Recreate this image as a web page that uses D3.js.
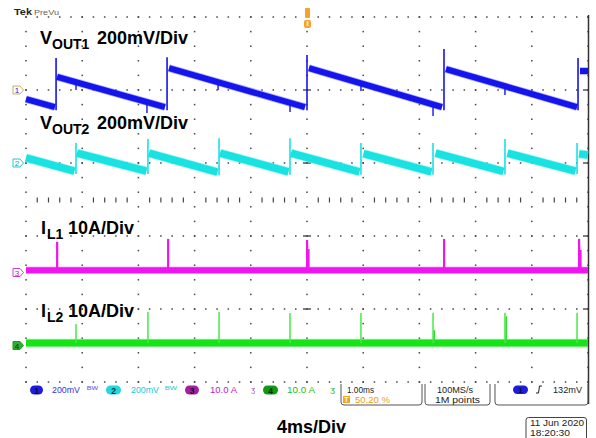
<!DOCTYPE html>
<html><head><meta charset="utf-8">
<script src="https://cdn.jsdelivr.net/npm/d3@7"></script>
<style>body{margin:0;background:#fff}svg{display:block}</style>
</head><body>
<svg id="scope" width="596" height="438"></svg>
<script>
// ---- Acquisition data (time in ms, voltages in mV, currents in A) ----
const timeSpanMs = [0, 40];          // 10 divisions x 4 ms
const gridRows = [0, 1, 2, 3, 4, 5];  // vertical divisions

// Channel settings: vertical scale per division and ground marker position (div)
const ch1Scale = 200, ch1Offset = 4;    // VOUT1, mV/div
const ch2Scale = 200, ch2Offset = 3;    // VOUT2, mV/div
const ch3Scale = 10,  ch3Offset = 1.5;  // IL1, A/div
const ch4Scale = 10,  ch4Offset = 0.5;  // IL2, A/div

// VOUT1 ramps: [tStart, vStart, tEnd, vEnd]
const ch1Ramps = [
  [0.00, -25, 2.06, -47],
  [2.21, 36, 9.89, -47],
  [10.18, 60, 19.86, -47],
  [20.14, 60, 29.61, -47],
  [29.89, 57, 39.22, -47],
  [39.43, 52, 40.00, 52]
];
// VOUT1 recharge edges: [t, peak mV]
const ch1Edges = [[2.14, 88], [10.04, 90], [20.00, 96], [29.75, 112], [39.29, 88]];
// VOUT1 coupling dips: [t, lowest mV]
const ch1Dips = [[3.56, 0], [8.61, -63], [13.67, 0], [18.79, -60], [23.84, -3], [28.97, -71], [34.09, -14]];

// VOUT2 ramps and edges
const ch2Ramps = [
  [0.00, 14, 3.45, -22],
  [3.63, 27, 8.57, -22],
  [8.75, 27, 13.63, -25],
  [13.81, 27, 18.68, -24],
  [18.86, 27, 23.73, -24],
  [24.02, 26, 28.86, -24],
  [29.15, 27, 33.98, -23],
  [34.27, 27, 39.11, -22],
  [39.36, 25, 40.00, 22]
];
const ch2Edges = [[3.56, 55], [8.68, 66], [13.74, 68], [18.79, 68], [23.84, 55], [28.97, 55], [34.09, 66], [39.22, 55]];

// Inductor currents: resting level and pulses [t, peak A, tail A]
const ch3Base = 0.3;
const ch3Pulses = [[2.21, 4.2, 0.3], [10.11, 4.6, 0.3], [20.00, 4.45, 3.2], [29.75, 4.6, 0.3], [39.36, 4.6, 3.1]];
const ch4Base = 0.35;
const ch4Pulses = [[3.56, 2.95, 0.35], [8.68, 4.6, 0.35], [13.74, 4.6, 0.35], [18.79, 4.45, 0.35],
                   [23.84, 4.45, 0.35], [28.97, 4.5, 2.1], [34.09, 4.5, 4.0], [39.22, 4.5, 0.35]];

// Readout texts
const chReadouts = ["200mV", "200mV", "10.0 A", "10.0 A"];
const timebaseText = "1.00ms", triggerPosText = "50.20 %";
const sampleRateText = "100MS/s", recordText = "1M points";
const triggerLevelText = "132mV";
const dateText = "11 Jun 2020", timeText = "18:20:30";

// ---- Drawing ----
const svg = d3.select("#scope");
const X = d3.scaleLinear().domain(timeSpanMs).range([26, 588]);
const Y = d3.scaleLinear().domain([0, 5]).range([382, 17]);
const y1 = v => Y(ch1Offset + v / ch1Scale);
const y2 = v => Y(ch2Offset + v / ch2Scale);
const y3 = v => Y(ch3Offset + v / ch3Scale);
const y4 = v => Y(ch4Offset + v / ch4Scale);

const colors = {c1: "#1414ec", c2: "#18e2e2", c3: "#ee16ee", c4: "#16e416"};
const halos  = {c1: "#6a6af6", c2: "#7eeeee", c3: "#f47cf4", c4: "#7cf07c"};

// Graticule
const grid = svg.append("g");
const colTimes = d3.range(0, 40.001, 4);
const minorTimes = d3.range(0, 40.001, 0.8);
const minorDivs = d3.range(0, 5.001, 0.2);
colTimes.forEach(t => minorDivs.forEach(d =>
  grid.append("rect").attr("x", X(t) - 0.75).attr("y", Y(d) - 0.75)
    .attr("width", 1.5).attr("height", 1.5).attr("fill", "#444")));
gridRows.forEach(d => minorTimes.forEach(t =>
  grid.append("rect").attr("x", X(t) - 0.75).attr("y", Y(d) - 0.75)
    .attr("width", 1.5).attr("height", 1.5).attr("fill", "#444")));
// centre horizontal axis ticks
minorTimes.filter(t => Math.abs(t / 4 - Math.round(t / 4)) > 1e-6).forEach(t =>
  grid.append("line").attr("x1", X(t)).attr("x2", X(t))
    .attr("y1", Y(2.5) - 2).attr("y2", Y(2.5) + 3)
    .attr("stroke", "#444").attr("stroke-width", 1.2));
// centre vertical axis and right edge marks at major rows
gridRows.slice(1, 5).forEach(d => {
  grid.append("line").attr("x1", X(20) - 4).attr("x2", X(20) + 4)
    .attr("y1", Y(d)).attr("y2", Y(d)).attr("stroke", "#555").attr("stroke-width", 1.5);
  grid.append("line").attr("x1", X(40) - 5).attr("x2", X(40))
    .attr("y1", Y(d)).attr("y2", Y(d)).attr("stroke", "#555").attr("stroke-width", 1.5);
});
// right frame line
svg.append("line").attr("x1", 588.5).attr("x2", 588.5).attr("y1", 15).attr("y2", 404)
  .attr("stroke", "#333").attr("stroke-width", 1.5);

const line = d3.line();
function band(g, pts, key, w) {
  g.append("path").attr("d", line(pts)).attr("fill", "none")
    .attr("stroke", halos[key]).attr("stroke-width", w + 1.6).attr("stroke-opacity", 0.55);
  g.append("path").attr("d", line(pts)).attr("fill", "none")
    .attr("stroke", colors[key]).attr("stroke-width", w);
}
function rampAt(ramps, t) {
  const r = ramps.find(r => t >= r[0] && t <= r[2]) || ramps[0];
  return r[1] + (r[3] - r[1]) * (t - r[0]) / (r[2] - r[0]);
}

// Channel 1
const g1 = svg.append("g");
ch1Ramps.forEach(r => band(g1, [[X(r[0]), y1(r[1])], [X(r[2]), y1(r[3])]], "c1", 6));
ch1Edges.forEach((e, i) => {
  const prev = ch1Ramps[i];
  g1.append("line").attr("x1", X(e[0])).attr("x2", X(e[0]))
    .attr("y1", y1(prev[3]) + 3).attr("y2", y1(e[1]))
    .attr("stroke", colors.c1).attr("stroke-width", 1.6);
});
ch1Dips.forEach(d => g1.append("line").attr("x1", X(d[0])).attr("x2", X(d[0]))
  .attr("y1", y1(rampAt(ch1Ramps, d[0]))).attr("y2", y1(d[1]))
  .attr("stroke", colors.c1).attr("stroke-width", 1.4));

// Channel 2
const g2 = svg.append("g");
ch2Ramps.forEach(r => band(g2, [[X(r[0]), y2(r[1])], [X(r[2]), y2(r[3])]], "c2", 7.5));
ch2Edges.forEach((e, i) => {
  const prev = ch2Ramps[i];
  g2.append("line").attr("x1", X(e[0])).attr("x2", X(e[0]))
    .attr("y1", y2(prev[3]) + 3).attr("y2", y2(e[1]))
    .attr("stroke", colors.c2).attr("stroke-width", 1.6);
});

// Channel 3
const g3 = svg.append("g");
band(g3, [[X(0), y3(ch3Base)], [X(40), y3(ch3Base)]], "c3", 6);
ch3Pulses.forEach(p => {
  g3.append("rect").attr("x", X(p[0]) - 1).attr("y", y3(p[1]))
    .attr("width", 2.2).attr("height", y3(ch3Base) - y3(p[1]))
    .attr("fill", colors.c3);
  if (p[2] > ch3Base + 0.5)
    g3.append("rect").attr("x", X(p[0]) + 1).attr("y", y3(p[2]))
      .attr("width", 1.6).attr("height", y3(ch3Base) - y3(p[2]))
      .attr("fill", colors.c3);
});

// Channel 4
const g4 = svg.append("g");
band(g4, [[X(0), y4(ch4Base)], [X(40), y4(ch4Base)]], "c4", 7);
ch4Pulses.forEach(p => {
  g4.append("line").attr("x1", X(p[0])).attr("x2", X(p[0]))
    .attr("y1", y4(ch4Base)).attr("y2", y4(p[1]))
    .attr("stroke", "#48e848").attr("stroke-width", 1.5);
  if (p[2] > ch4Base + 0.5)
    g4.append("line").attr("x1", X(p[0]) + 1.3).attr("x2", X(p[0]) + 1.3)
      .attr("y1", y4(ch4Base)).attr("y2", y4(p[2]))
      .attr("stroke", "#30dd30").attr("stroke-width", 1.5);
});

// Ground markers on the left edge
const markers = [
  {n: "1", off: ch1Offset, stroke: "#c8b060", fill: "#fff", text: "#2020c0"},
  {n: "2", off: ch2Offset, stroke: "#20c8d8", fill: "#fff", text: "#1a9ab0"},
  {n: "3", off: ch3Offset, stroke: "#d040d0", fill: "#fff", text: "#b020b0"},
  {n: "4", off: ch4Offset, stroke: "#1a9a1a", fill: "#30b030", text: "#0a2a0a"}
];
markers.forEach(m => {
  const yy = Y(m.off);
  svg.append("path")
    .attr("d", `M13,${yy - 4}L20,${yy - 4}L23.5,${yy}L20,${yy + 4}L13,${yy + 4}Z`)
    .attr("fill", m.fill).attr("stroke", m.stroke).attr("stroke-width", 1);
  svg.append("text").attr("x", 17).attr("y", yy + 3).attr("text-anchor", "middle")
    .attr("font-family", "Liberation Sans, Arial, sans-serif").attr("font-size", 8)
    .attr("fill", m.text).text(m.n);
});

// Trigger position marker
svg.append("rect").attr("x", 305).attr("y", 8).attr("width", 5).attr("height", 10)
  .attr("rx", 1).attr("fill", "#f4a428");
svg.append("rect").attr("x", 304).attr("y", 20).attr("width", 7).attr("height", 8)
  .attr("rx", 2).attr("fill", "#f4a428");
svg.append("rect").attr("x", 306.5).attr("y", 21).attr("width", 2).attr("height", 5)
  .attr("fill", "#fbd9a0");

// Header
svg.append("text").attr("x", 14).attr("y", 15).attr("font-family", "Liberation Sans, Arial, sans-serif")
  .attr("font-size", 9.5).attr("font-weight", "bold").attr("fill", "#222")
  .attr("textLength", 18).attr("lengthAdjust", "spacingAndGlyphs").text("Tek");
svg.append("text").attr("x", 34).attr("y", 15).attr("font-family", "Liberation Sans, Arial, sans-serif")
  .attr("font-size", 7.5).attr("fill", "#666")
  .attr("textLength", 25).attr("lengthAdjust", "spacingAndGlyphs").text("PreVu");

// Channel labels
const lab = "Liberation Sans, Arial, Helvetica, sans-serif";
function chLabel(x, base, main, sub, subX, rest, restX) {
  const t = svg.append("g").attr("font-family", lab).attr("font-weight", "bold").attr("fill", "#000");
  t.append("text").attr("x", x).attr("y", base).attr("font-size", 18).text(main);
  t.append("text").attr("x", subX).attr("y", base + 5).attr("font-size", 14).text(sub);
  t.append("text").attr("x", restX).attr("y", base).attr("font-size", 18).text(rest);
}
chLabel(40, 44, "V", "OUT1", 52, "200mV/Div", 97);
chLabel(40, 129, "V", "OUT2", 52, "200mV/Div", 97);
chLabel(41, 234, "I", "L1", 47, "10A/Div", 68);
chLabel(41, 317, "I", "L2", 47, "10A/Div", 68);

// Readout bar
const ro = svg.append("g").attr("font-family", "Liberation Sans, Arial, sans-serif").attr("font-size", 9);
function badge(x, w, fill, n, tcol) {
  ro.append("rect").attr("x", x).attr("y", 385.5).attr("width", w).attr("height", 9)
    .attr("rx", 4.5).attr("fill", fill);
  ro.append("text").attr("x", x + w / 2).attr("y", 393.5).attr("text-anchor", "middle")
    .attr("font-size", 8.5).attr("font-weight", "bold").attr("fill", tcol).text(n);
}
function rtext(x, y, w, s, col, size) {
  ro.append("text").attr("x", x).attr("y", y).attr("fill", col)
    .attr("font-size", size || 9).attr("textLength", w).attr("lengthAdjust", "spacingAndGlyphs").text(s);
}
badge(30, 13, "#1c1ce0", "1", "#0a0a40");
rtext(52, 393, 28, chReadouts[0], "#3434e0");
rtext(87, 392, 11, "ᴮᵂ", "#6060e0", 8);
badge(106, 15, "#22d8e0", "2", "#053a40");
rtext(131, 393, 28, chReadouts[1], "#22c8d8");
rtext(165, 392, 12, "ᴮᵂ", "#40c8d8", 8);
badge(185, 14, "#a020a0", "3", "#300030");
rtext(210, 393, 27, chReadouts[2], "#c020c0");
rtext(251, 392, 4, "ʒ", "#b040b0", 8);
badge(263, 15, "#109a10", "4", "#022a02");
rtext(287, 393, 28, chReadouts[3], "#20c020");
rtext(330, 392, 5, "ʒ", "#30b030", 8);

// Readout boxes
function box(x0, x1) {
  ro.append("path").attr("d", `M${x0},384L${x0},402Q${x0},405 ${x0 + 3},405L${x1 - 3},405Q${x1},405 ${x1},402L${x1},384`)
    .attr("fill", "none").attr("stroke", "#555").attr("stroke-width", 1);
}
box(341, 422);
box(425, 490);
box(495, 588);
rtext(347, 393, 27, timebaseText, "#222");
ro.append("rect").attr("x", 343).attr("y", 396).attr("width", 7).attr("height", 7).attr("fill", "#f4a428");
ro.append("text").attr("x", 346.5).attr("y", 402.3).attr("text-anchor", "middle").attr("font-size", 7)
  .attr("font-weight", "bold").attr("fill", "#fff").text("T");
rtext(355, 402.5, 35, triggerPosText, "#f09a18");
rtext(437, 393, 36, sampleRateText, "#222");
rtext(435, 402.5, 45, recordText, "#222");
ro.append("rect").attr("x", 513).attr("y", 385.5).attr("width", 15).attr("height", 8.5)
  .attr("rx", 4.2).attr("fill", "#1c1ce0");
ro.append("text").attr("x", 520.5).attr("y", 393).attr("text-anchor", "middle").attr("font-size", 8)
  .attr("font-weight", "bold").attr("fill", "#0a0a40").text("1");
ro.append("path").attr("d", "M536,393L538.5,393L539.5,386L542,386").attr("fill", "none")
  .attr("stroke", "#222").attr("stroke-width", 1);
rtext(553, 393, 29, triggerLevelText, "#222");

// Time per division caption
svg.append("text").attr("x", 277).attr("y", 433).attr("font-family", lab)
  .attr("font-weight", "bold").attr("font-size", 18).attr("fill", "#000").text("4ms/Div");

// Date stamp
ro.append("path").attr("d", "M526,438L526,420Q526,417.5 528.5,417.5L584,417.5Q586.5,417.5 586.5,420L586.5,438")
  .attr("fill", "none").attr("stroke", "#444").attr("stroke-width", 1);
rtext(530, 426, 54, dateText, "#222", 8.5);
rtext(530, 435.5, 40, timeText, "#222", 8.5);
</script>
</body></html>
